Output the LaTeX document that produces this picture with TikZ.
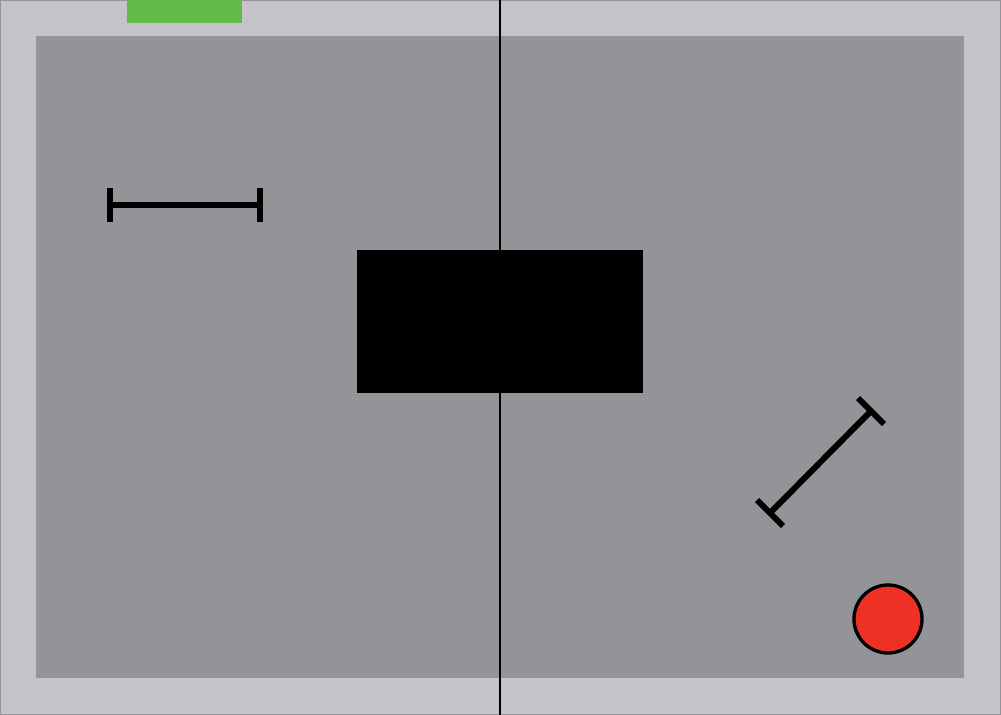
\documentclass[tikz,border=0pt]{standalone}
\definecolor{grisclaro}{RGB}{197, 195, 200}
\definecolor{grismedio}{RGB}{147, 148, 152}
\definecolor{verdemarca}{RGB}{98, 187, 70}
\definecolor{rojobola}{RGB}{238, 49, 36}
\usepackage{tikz}
\usetikzlibrary{calc}

\begin{document}
\begin{tikzpicture}[x=0.02cm, y=-0.02cm,
      barra/.style={line width=3.4pt, black},
      tope/.style={line width=3.4pt, black}]
      \useasboundingbox (0,0) rectangle (1001,715);
      % fondo y campo
      \fill[grisclaro] (0,0) rectangle (1001,715);
      \draw[grismedio, line width=0.6pt] (0.3,0.3) rectangle (1000.7,714.7);
      \fill[grismedio] (36,36) rectangle (964,678);
      \fill[verdemarca] (127,0) rectangle (242,23);

      % linea central y bloque
      \draw[black, line width=1.2pt] (500,0) -- (500,715);
      \fill[black] (357,250) rectangle (643,393);

      % barra horizontal
      \coordinate (h1) at (110,205);
      \coordinate (h2) at (260,205);
      \draw[barra] (h1) -- (h2);
      \draw[tope] ($(h1)+(0,-17)$) -- ($(h1)+(0,17)$);
      \draw[tope] ($(h2)+(0,-17)$) -- ($(h2)+(0,17)$);

      % barra diagonal
      \coordinate (d1) at (770,513);
      \coordinate (d2) at (871,411);
      \draw[barra] (d1) -- (d2);
      \draw[tope] ($(d1)+(-13,-13)$) -- ($(d1)+(13,13)$);
      \draw[tope] ($(d2)+(-13,-13)$) -- ($(d2)+(13,13)$);

      % bola
      \draw[fill=rojobola, line width=1.9pt] (888,619) circle (34);
    \end{tikzpicture}
\end{document}
